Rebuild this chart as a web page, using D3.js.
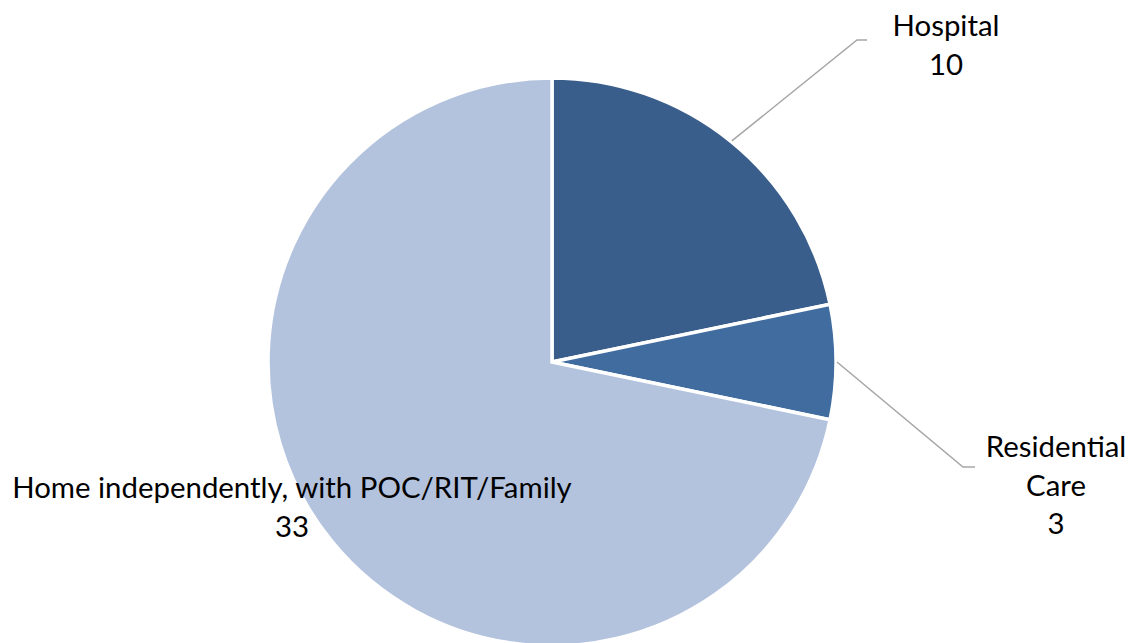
<!DOCTYPE html>
<html>
<head>
<meta charset="utf-8">
<script src="https://cdn.jsdelivr.net/npm/d3@7"></script>
<style>
  html, body { margin: 0; padding: 0; background: #fff; }
  svg { display: block; }
  text { font-family: Lato, "Open Sans", sans-serif; fill: #000; }
</style>
</head>
<body>
<svg id="chart" width="1135" height="643"></svg>
<script>
// Discharge destinations
const categories = ["Hospital", "Residential Care", "Home independently, with POC/RIT/Family"];
const values = [10, 3, 33];
const labelLines = [["Hospital"], ["Residential", "Care"], ["Home independently, with POC/RIT/Family"]];
const colors = ["#3A5E8B", "#416C9F", "#B4C3DD"];

const W = 1135, H = 643;
const cx = 552, cy = 362, radius = 284;
const fontSize = 29.4, lineGap = 38.5;

// label anchor (centre x, first baseline y) and leader elbow for each slice
const labelLayout = [
  { x: 946, y: 36, elbow: [857, 40], tail: 867 },
  { x: 1056, y: 457, elbow: [963, 467], tail: 975 },
  { x: 292, y: 498, elbow: null }
];

const svg = d3.select("#chart");
const g = svg.append("g").attr("transform", `translate(${cx},${cy})`);

const data = categories.map((c, i) => ({ name: c, value: values[i], lines: labelLines[i], color: colors[i], layout: labelLayout[i] }));

const pie = d3.pie().value(d => d.value).sort(null);
const arc = d3.arc().innerRadius(0).outerRadius(radius);
const arcs = pie(data);

g.selectAll("path.slice")
  .data(arcs)
  .join("path")
  .attr("class", "slice")
  .attr("d", arc)
  .attr("fill", d => d.data.color)
  .attr("stroke", "#fff")
  .attr("stroke-width", 3.5)
  .attr("stroke-linejoin", "miter");

// leader lines from slice edge to label
arcs.forEach(a => {
  const L = a.data.layout;
  if (!L.elbow) return;
  const mid = (a.startAngle + a.endAngle) / 2;
  const sx = cx + Math.sin(mid) * (radius + 1);
  const sy = cy - Math.cos(mid) * (radius + 1);
  svg.append("polyline")
    .attr("points", [[sx, sy], L.elbow, [L.tail, L.elbow[1]]].map(p => p.join(",")).join(" "))
    .attr("fill", "none")
    .attr("stroke", "#A6A6A6")
    .attr("stroke-width", 1.5);
});

// category name + value labels
arcs.forEach(a => {
  const L = a.data.layout;
  const t = svg.append("text")
    .attr("text-anchor", "middle")
    .attr("font-size", fontSize);
  const lines = a.data.lines.concat([String(a.data.value)]);
  lines.forEach((s, i) => {
    t.append("tspan").attr("x", L.x).attr("y", L.y + i * lineGap).text(s);
  });
});
</script>
</body>
</html>
